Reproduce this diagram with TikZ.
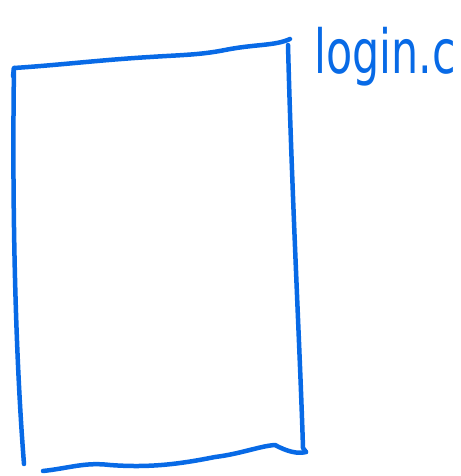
\documentclass[tikz,border=0pt]{standalone}
\usepackage{fontspec}
\usepackage{graphicx}
\setmainfont{DejaVu Sans}
\definecolor{pen}{RGB}{8,106,230}
\begin{document}
\begin{tikzpicture}[x=1pt,y=-1pt,
  ink/.style={draw=pen,line width=4.5pt,line cap=round,line join=round},
  hand/.style={text=pen,font=\fontsize{42}{42}\selectfont,inner sep=0pt,anchor=base west}]
\useasboundingbox (0,0) rectangle (460,476);
% box edges
\coordinate (tl) at (14,68);
\coordinate (tr) at (290,39);
\coordinate (br) at (306,452);
\coordinate (bl) at (24,464);
\coordinate (bs) at (43,471);
\draw[ink] (13,76) -- (tl) .. controls (60,65) and (100,60) .. (150,57)
  .. controls (180,55) and (200,55) .. (225,50) .. controls (255,44) and (275,46) .. (tr);
\draw[ink] (tl) .. controls (12,200) and (15,350) .. (bl);
\draw[ink] (288,45) .. controls (292,200) and (300,350) .. (303,448) -- (br);
\draw[ink] (bs) .. controls (70,468) and (85,462) .. (110,465)
  .. controls (150,468) and (180,464) .. (215,457) .. controls (240,454) and (260,446) .. (275,445)
  .. controls (288,452) and (298,454) .. (br);
\node[hand] (label) at (314,74) {\scalebox{1.02}[1.45]{login.c}};
\end{tikzpicture}
\end{document}
